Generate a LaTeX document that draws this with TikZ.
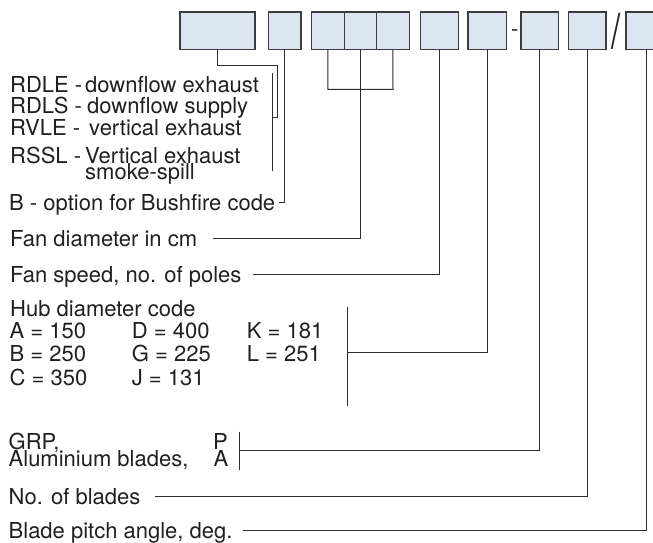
\documentclass[tikz,border=0pt]{standalone}
\usepackage{graphicx}
\usepackage{fontspec}
\setmainfont{TeX Gyre Heros}
\definecolor{boxfill}{RGB}{220,230,243}
\definecolor{boxline}{RGB}{60,60,60}
\definecolor{linec}{RGB}{45,45,45}
\definecolor{txt}{RGB}{35,31,32}
\tikzset{
  box/.style={draw=boxline, fill=boxfill, line width=1.3pt, inner sep=0pt, minimum height=37.3pt},
  conn/.style={draw=linec, line width=1pt},
  lbl/.style={anchor=base west, inner sep=0pt, text=txt, font=\fontsize{22}{22}\selectfont},
  lble/.style={anchor=base east, inner sep=0pt, text=txt, font=\fontsize{22}{22}\selectfont},
}
\begin{document}
\begin{tikzpicture}[x=1pt,y=-1pt]
\clip (0,0) rectangle (653,542);
\fill[white] (0,0) rectangle (653,542);
% boxes
\node[box, minimum width=75pt]   (b1)  at (217.5,30.65) {};
\node[box, minimum width=32.3pt] (b2)  at (284.9,30.65) {};
\node[box, minimum width=32.5pt] (b3a) at (327.9,30.65) {};
\node[box, minimum width=32.5pt] (b3b) at (360.4,30.65) {};
\node[box, minimum width=32.5pt] (b3c) at (392.9,30.65) {};
\node[box, minimum width=38pt]   (b4)  at (439.7,30.65) {};
\node[box, minimum width=38.7pt] (b5)  at (487.3,30.65) {};
\node[box, minimum width=37.3pt] (b6)  at (539.7,30.65) {};
\node[box, minimum width=37.7pt] (b7)  at (587.2,30.65) {};
\node[box, minimum width=40pt]   (b8)  at (646,30.65) {};
\node[anchor=base, inner sep=0pt, text=txt, font=\fontsize{22}{22}\selectfont] (dash) at (514.8,36.6) {-};
\node[anchor=base, inner sep=0pt, text=txt, font=\fontsize{22}{22}\selectfont] (slash) at (616,48) {\scalebox{1.5}[2.2]{/}};
% labels
\node[lbl] (rdle) at (10,92)    {\makebox[75pt][l]{RDLE -}downflow exhaust};
\node[lbl] (rdls) at (10,113.5) {\makebox[77pt][l]{RDLS -}downflow supply};
\node[lbl] (rvle) at (10,135.5) {\makebox[79pt][l]{RVLE -}vertical exhaust};
\node[lbl] (rssl) at (10,163)   {\makebox[75pt][l]{RSSL -}Vertical exhaust};
\node[lbl] (smoke) at (85,179)  {smoke-spill};
\node[lbl] (bush) at (9,210.5)  {B - option for Bushfire code};
\node[lbl] (fandia) at (10,246) {Fan diameter in cm};
\node[lbl] (fanspd) at (10,282.2) {Fan speed, no. of poles};
\node[lbl] (hub) at (10,316)    {Hub diameter code};
\node[lbl] (ha) at (9.5,338.5)  {A = 150};
\node[lbl] (hd) at (131.7,338.5) {D = 400};
\node[lbl] (hk) at (246.7,338.5) {K = 181};
\node[lbl] (hb) at (9.5,361.5)  {B = 250};
\node[lbl] (hg) at (131.7,361.5) {G = 225};
\node[lbl] (hl) at (246.7,361.5) {L = 251};
\node[lbl] (hc) at (9.5,385)    {C = 350};
\node[lbl] (hj) at (131.7,385)  {J = 131};
\node[lbl] (grp) at (8.5,449.3) {GRP,};
\node[lble] (p) at (228,449.3)  {P};
\node[lbl] (alu) at (8.5,466.7) {Aluminium blades,};
\node[lble] (a) at (228.5,466.7) {A};
\node[lbl] (nob) at (8.5,504)   {No. of blades};
\node[lbl] (pitch) at (8.5,538.6) {Blade pitch angle, deg.};
% connector end points
\coordinate (brA) at (272.5,117.5);
\coordinate (brAt) at (272.5,73);
\coordinate (brAb) at (272.5,171);
\coordinate (k1) at (277.7,65);
\coordinate (bushend) at (279,202.5);
\coordinate (j3) at (393,89.3);
\coordinate (diaend) at (213,238);
\coordinate (spdend) at (253,274.3);
\coordinate (hubmid) at (347.7,352);
\coordinate (hubt) at (347.7,307);
\coordinate (hubb) at (347.7,406);
\coordinate (pam) at (239.3,450.7);
\coordinate (pat) at (239.3,431.7);
\coordinate (pab) at (239.3,470);
\coordinate (nobend) at (155,496);
\coordinate (pitchend) at (243,530.7);
% connectors
\draw[conn] (b1.south) |- (k1) |- (brA);
\draw[conn] (brAt) -- (brAb);
\draw[conn] (b2.south) |- (bushend);
\draw[conn] (b3a.south) |- (j3) -- (b3c.south);
\draw[conn] (b3b.south) |- (diaend);
\draw[conn] (b4.south) |- (spdend);
\draw[conn] (b5.south) |- (hubmid);
\draw[conn] (hubt) -- (hubb);
\draw[conn] (b6.south) |- (pam);
\draw[conn] (pat) -- (pab);
\draw[conn] (b7.south) |- (nobend);
\draw[conn] (b8.south) |- (pitchend);
\end{tikzpicture}
\end{document}
